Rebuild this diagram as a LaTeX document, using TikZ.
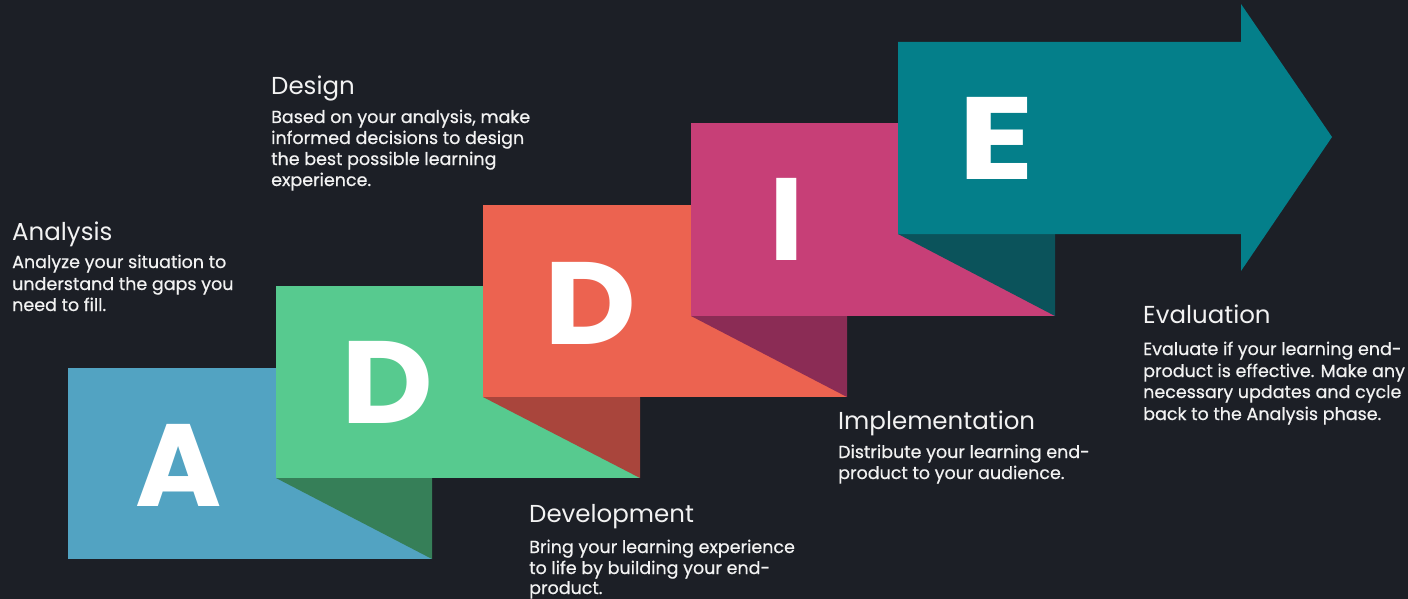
\documentclass[tikz,border=0pt]{standalone}
\usepackage{fontspec}
\setmainfont{Poppins}
\newfontfamily\bodyfont{Poppins}[FakeBold=0.6]
\definecolor{bg}{HTML}{1C1F26}
\definecolor{cA}{HTML}{52A3C2}
\definecolor{cD}{HTML}{57CA8F}
\definecolor{cDs}{HTML}{367F58}
\definecolor{cO}{HTML}{EC6350}
\definecolor{cOs}{HTML}{A9453C}
\definecolor{cI}{HTML}{C73F77}
\definecolor{cIs}{HTML}{8B2C55}
\definecolor{cE}{HTML}{047F8A}
\definecolor{cEs}{HTML}{0B535B}
\definecolor{txt}{HTML}{F2F2F2}
\tikzset{
  ttl/.style={anchor=base west, inner sep=0pt, text=txt, font=\fontsize{24.5}{28}\selectfont},
  bdy/.style={anchor=base west, inner sep=0pt, text=txt, font=\bodyfont\fontsize{17.5}{21}\selectfont},
  letter/.style={anchor=base, inner sep=0pt, text=white, font=\bfseries\fontsize{117}{120}\selectfont},
}
\begin{document}
\begin{tikzpicture}[x=1pt,y=-1pt]
\fill[bg] (0,0) rectangle (1408,599);
\useasboundingbox (0,0) rectangle (1408,599);
% blocks
\fill[cA] (68,368) rectangle (432,559);
\fill[cDs] (276,478) -- (432,478) -- (432,559) -- cycle;
\fill[cD] (276,286) rectangle (640,478);
\fill[cOs] (483,397) -- (640,397) -- (640,478) -- cycle;
\fill[cO] (483,205) rectangle (847,397);
\fill[cIs] (691,316) -- (847,316) -- (847,397) -- cycle;
\fill[cI] (691,123) rectangle (1055,316);
\fill[cEs] (898,234) -- (1055,234) -- (1055,316) -- cycle;
\fill[cE] (898,42) -- (1241,42) -- (1241,4) -- (1332,137) -- (1241,271) -- (1241,234) -- (898,234) -- cycle;
% letters
\node[letter] (LA) at (179,506) {A};
\node[letter, xscale=1.08] (LD1) at (387,423) {D};
\node[letter, xscale=1.08] (LD2) at (590,344) {D};
\node[letter] (LI) at (787,260) {I};
\node[letter, xscale=1.2] (LE) at (996,179) {E};
% Analysis
\node[ttl] (tA) at (12,240) {Analysis};
\node[bdy] (bA1) at (12,268) {Analyze your situation to};
\node[bdy] (bA2) at (12,290) {understand the gaps you};
\node[bdy] (bA3) at (12,311) {need to fill.};
% Design
\node[ttl] (tD) at (271,95) {Design};
\node[bdy] (bD1) at (271,123) {Based on your analysis, make};
\node[bdy] (bD2) at (271,144) {informed decisions to design};
\node[bdy] (bD3) at (271,165) {the best possible learning};
\node[bdy] (bD4) at (271,186) {experience.};
% Development
\node[ttl] (tV) at (529,522) {Development};
\node[bdy] (bV1) at (529,553) {Bring your learning experience};
\node[bdy] (bV2) at (529,574) {to life by building your end-};
\node[bdy] (bV3) at (529,594) {product.};
% Implementation
\node[ttl] (tI) at (838,429) {Implementation};
\node[bdy] (bI1) at (838,458) {Distribute your learning end-};
\node[bdy] (bI2) at (838,479) {product to your audience.};
% Evaluation
\node[ttl] (tE) at (1143,323) {Evaluation};
\node[bdy] (bE1) at (1143,355) {Evaluate if your learning end-};
\node[bdy] (bE2) at (1143,377) {product is effective. Make any};
\node[bdy] (bE3) at (1143,398) {necessary updates and cycle};
\node[bdy] (bE4) at (1143,420) {back to the Analysis phase.};
\end{tikzpicture}
\end{document}
